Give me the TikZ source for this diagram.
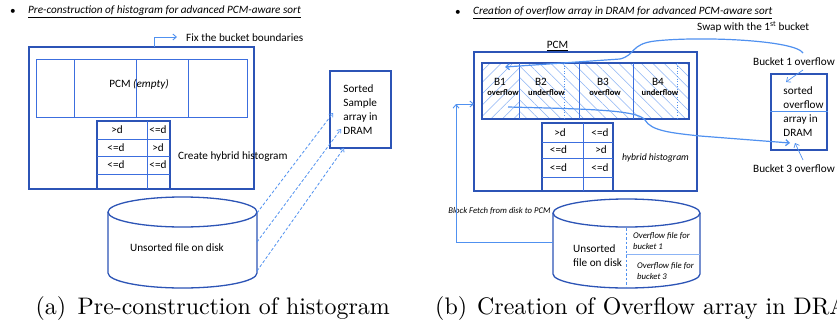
\documentclass[tikz,border=0pt]{standalone}
\usepackage{fontspec}
\newfontfamily\bodyfont{Carlito}
\newfontfamily\capfont{lmroman10-regular.otf}
\usetikzlibrary{patterns.meta,arrows.meta}

\definecolor{frameblue}{RGB}{44,84,182}
\definecolor{cellblue}{RGB}{60,110,222}
\definecolor{linkblue}{RGB}{80,145,240}
\definecolor{hatchblue}{RGB}{140,180,245}

\tikzset{
  frame/.style={draw=frameblue, line width=1.3pt, inner sep=0pt},
  cellrule/.style={draw=cellblue, line width=0.9pt},
  link/.style={draw=linkblue, line width=0.9pt},
  dashlink/.style={draw=linkblue, line width=0.8pt, dashed, dash pattern=on 3pt off 2pt, -{Straight Barb[length=3pt,width=5pt]}},
  tip/.style={-{Straight Barb[length=3.5pt,width=6pt]}},
  txt/.style={font=\bodyfont\fontsize{11.2}{13.8}\selectfont, inner sep=0pt},
  small/.style={font=\bodyfont\itshape\fontsize{8.7}{11}\selectfont, inner sep=0pt},
  tag/.style={font=\bodyfont\bfseries\fontsize{8.5}{10}\selectfont, inner sep=0pt},
  capt/.style={font=\capfont\fontsize{23.9}{29}\selectfont, inner sep=0pt},
  hatch/.style={pattern={Lines[angle=#1,distance=8pt,line width=0.5pt]}, pattern color=hatchblue},
}

\begin{document}
\begin{tikzpicture}[x=1pt,y=-1pt]
\clip (0,0) rectangle (837,327);
\fill[white] (0,0) rectangle (837,327);

% ---------------- (a) histogram pre-construction ----------------
\node[txt] (bulA) at (13,12) {\textbullet};
\node[txt, anchor=west, font=\bodyfont\itshape\fontsize{11.2}{13}\selectfont] (ttlA) at (28,12)
  {\underline{Pre-construction of histogram for advanced PCM-aware sort}};

\node[frame, minimum width=225pt, minimum height=142pt] (outerA) at (141.5,118) {};
\node[frame, draw=cellblue, line width=1pt, minimum width=211pt, minimum height=58pt] (pcmA) at (141.5,88) {};
\foreach \xx in {74,136,188} \draw[cellrule] (\xx,59) -- (\xx,117);
\node[txt] (pcmAtxt) at (139,84) {PCM \textit{(empty)}};

% boundary arrow
\coordinate (fixA) at (154,47);
\coordinate (fixB) at (154,37);
\coordinate (fixC) at (177,37);
\draw[link, tip] (fixA) -- (fixB) -- (fixC);
\node[txt, anchor=west] (fixT) at (186,38) {Fix the bucket boundaries};

% histogram table
\node[frame, minimum width=73pt, minimum height=68pt] (histA) at (133.5,155) {};
\draw[cellrule] (147,121) -- (147,189);
\foreach \yy in {139,156,174} \draw[cellrule] (97,\yy) -- (170,\yy);
\node[txt] at (117,130) {>d};
\node[txt] at (158,130) {<=d};
\node[txt] at (116,147.5) {<=d};
\node[txt] at (158,147.5) {>d};
\node[txt] at (116,165) {<=d};
\node[txt] at (158,165) {<=d};
\node[txt, anchor=west] (histAtxt) at (178,157) {Create hybrid histogram};

% disk
\draw[frame] (108,212) -- (108,273) arc[start angle=180, end angle=0, x radius=74.5, y radius=15] -- (257,212);
\draw[frame] (182.5,212) ellipse[x radius=74.5, y radius=15];
\node[txt] (diskA) at (177,248) {Unsorted file on disk};
\coordinate (dA1) at (257,213);
\coordinate (dA2) at (257,242);
\coordinate (dA3) at (257,271);

% sorted sample array
\node[frame, minimum width=61pt, minimum height=77pt] (sampleA) at (360.5,109.5) {};
\node[txt, align=left] (sampleAtxt) at (360.5,109.5) {Sorted\\Sample\\array in\\DRAM};
\coordinate (sA1) at (333,113);
\coordinate (sA2) at (341,129);
\coordinate (sA3) at (344,148);
\draw[dashlink] (dA1) -- (sA1);
\draw[dashlink] (dA2) -- (sA2);
\draw[dashlink] (dA3) -- (sA3);

\node[capt, anchor=base east] (capA) at (390,314) {Pre-construction of histogram};
\node[capt, anchor=base east] (capAlbl) at ([xshift=-11pt]capA.base west) {(a)};

% ---------------- (b) overflow array ----------------
\node[txt] (bulB) at (458,13) {\textbullet};
\node[txt, anchor=west, font=\bodyfont\itshape\fontsize{11.2}{13}\selectfont] (ttlB) at (473,13)
  {\underline{Creation of overflow array in DRAM for advanced PCM-aware sort}};
\node[txt, anchor=west] (swapT) at (697,27) {Swap with the 1\textsuperscript{st} bucket};
\node[txt] (pcmBlbl) at (557.5,46) {\underline{PCM}};

\node[frame, minimum width=223pt, minimum height=139pt] (outerB) at (585.5,121.5) {};

% buckets with hatching
\fill[hatch=45] (482,63) rectangle (519,119);
\fill[hatch=-45] (519,63) rectangle (579,119);
\fill[hatch=-45] (579,63) rectangle (633,119);
\fill[hatch=-45] (633,63) rectangle (689,119);
\node[frame, line width=1.1pt, minimum width=207pt, minimum height=56pt] (bucketsB) at (585.5,91) {};
\foreach \xx in {519,579,633} \draw[cellrule] (\xx,63) -- (\xx,119);
\foreach \xx in {564,677} \draw[draw=linkblue, line width=0.6pt, dotted] (\xx,63) -- (\xx,119);
\node[txt] at (500,82) {B1};
\node[tag] at (503,93) {overflow};
\node[txt] at (541,82) {B2};
\node[tag] at (546.5,93) {underflow};
\node[txt] at (603,82) {B3};
\node[tag] at (605,93) {overflow};
\node[txt] at (658,82) {B4};
\node[tag] at (660,93) {underflow};

% histogram table
\node[frame, minimum width=71pt, minimum height=68pt] (histB) at (577.5,157) {};
\draw[cellrule] (583,123) -- (583,191);
\foreach \yy in {142,158,177} \draw[cellrule] (542,\yy) -- (613,\yy);
\node[txt] at (560,132.5) {>d};
\node[txt] at (600,132.5) {<=d};
\node[txt] at (558.5,150) {<=d};
\node[txt] at (601,150) {>d};
\node[txt] at (558.5,167.5) {<=d};
\node[txt] at (600,167.5) {<=d};
\node[txt, font=\bodyfont\itshape\fontsize{9.7}{12}\selectfont] (histBtxt) at (655.5,158) {hybrid histogram};

% disk with overflow files
\draw[frame] (553,213) -- (553,274) arc[start angle=180, end angle=0, x radius=73.5, y radius=14] -- (700,213);
\draw[frame] (626.5,213) ellipse[x radius=73.5, y radius=14];
\draw[draw=linkblue, line width=0.7pt, dashed, dash pattern=on 2.5pt off 2pt] (626,228) -- (626,288);
\draw[draw=hatchblue, line width=0.8pt] (626,254) -- (700,254);
\node[txt, align=left, anchor=west] (diskB) at (573,255.5) {Unsorted\\file on disk};
\node[small, align=left, anchor=west] (ovf1) at (633,241.5) {Overflow file for\\bucket 1};
\node[small, align=left, anchor=west] (ovf3) at (637,271.5) {Overflow file for\\bucket 3};

% block fetch from disk
\node[small] (fetchT) at (499.5,211) {Block Fetch from disk to PCM};
\coordinate (fB0) at (553,242);
\coordinate (fB1) at (456,242);
\coordinate (fB2) at (456,104);
\coordinate (fB3) at (474,104);
\draw[link, tip] (fB0) -- (fB1) -- (fB2);
\draw[link, tip] (fB2) -- (fB3);

% sorted overflow array
\node[frame, minimum width=56pt, minimum height=76pt] (dramB) at (799,112) {};
\draw[draw=linkblue, line width=0.8pt] (dramB.west |- 0,111) -- (dramB.east |- 0,111);
\node[txt, align=left] (dramBtxt) at (803.5,111.5) {sorted\\overflow\\array in\\DRAM};
\node[txt, anchor=west] (b1T) at (753,62) {Bucket 1 overflow};
\node[txt, anchor=west] (b3T) at (753,169) {Bucket 3 overflow};
\coordinate (b1a) at (803,70);
\coordinate (b1b) at (786,82);
\coordinate (b3a) at (803,160);
\coordinate (b3b) at (795,143);
\draw[link, line width=0.7pt, tip] (b1a) -- (b1b);
\draw[link, line width=0.7pt, tip] (b3a) -- (b3b);

% swap curve back to the first bucket
\coordinate (swS) at (803,53);
\coordinate (swE) at (505,67);
\draw[link, line width=1.2pt, tip] (swS) .. controls (795,40) and (700,36) .. (655,41)
  .. controls (630,44) and (636,55) .. (620,59) -- (swE);

% bucket 3 overflow curve into DRAM
\coordinate (ovS) at (508,107);
\coordinate (ovE) at (790,143);
\draw[link, line width=1.2pt, tip] (ovS) .. controls (590,109) and (638,110) .. (645,120)
  .. controls (651,131) and (672,133) .. (700,136) -- (ovE);

\node[capt, anchor=base west] (capBlbl) at (435,314) {(b)};
\node[capt, anchor=base west] (capB) at (477,314) {Creation of Overflow array in DRAM};
\end{tikzpicture}
\end{document}
